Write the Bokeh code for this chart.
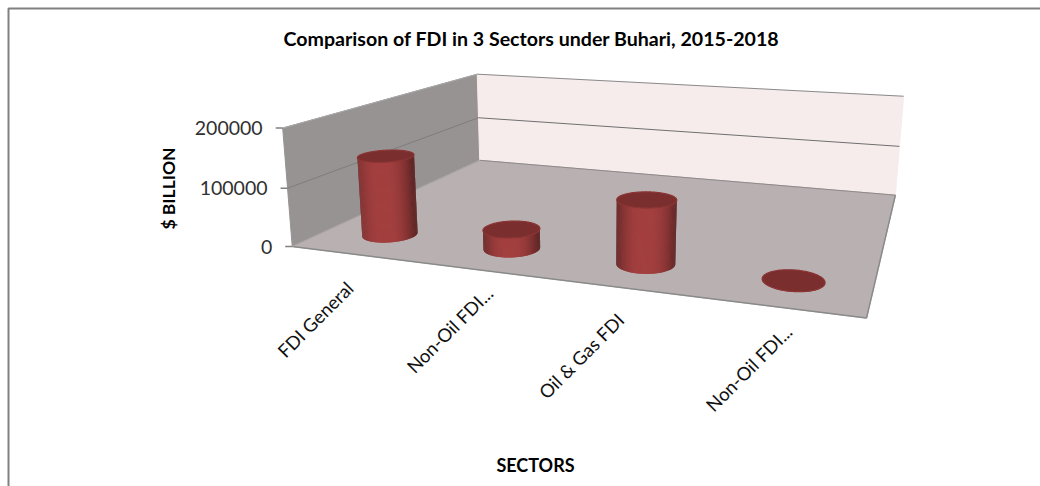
import numpy as np
from bokeh.plotting import figure
from bokeh.core.properties import value
from bokeh.embed import file_html
from bokeh.resources import INLINE

# ---- data ----
categories = ["FDI General", "Non-Oil FDI...", "Oil & Gas FDI", "Non-Oil FDI..."]
fdi_values = [138700, 32800, 104500, 500]
y_ticks = [0, 100000, 200000]
y_max = 200000
title_text = "Comparison of FDI in 3 Sectors under Buhari, 2015-2018"
y_title = "$ BILLION"
x_title = "SECTORS"

FONT = "Lato"
W, H = 1040, 486

# ---- camera: a 3D box (category, depth, value) seen by a projective camera, fitted to the frame ----
box = [(0, 0, 0), (1, 0, 0), (1, 1, 0), (0, 1, 0), (0, 1, 1), (0, 0, 1), (1, 1, 1), (0, 0, .5), (0, 1, .5), (1, 1, .5)]
page = [(292, 246), (866, 318), (895, 194), (479, 160), (477, 73), (282, 128), (903, 96), (287, 187), (478, 118), (899, 146)]
rows = []
for (a, b, c), (px, py) in zip(box, page):
    rows.append([a, b, c, 1, 0, 0, 0, 0, -px * a, -px * b, -px * c, -px])
    rows.append([0, 0, 0, 0, a, b, c, 1, -py * a, -py * b, -py * c, -py])
CAM = np.linalg.svd(np.array(rows, float))[2][-1].reshape(3, 4)


def proj(u, v, w):
    u, v, w = np.broadcast_arrays(np.asarray(u, float), np.asarray(v, float), np.asarray(w, float))
    q = CAM @ np.vstack([u.ravel(), v.ravel(), w.ravel(), np.ones(u.size)])
    return q[0] / q[2], q[1] / q[2]


p = figure(width=W, height=H, x_range=(0, W), y_range=(H, 0), toolbar_location=None,
           output_backend="svg", min_border=0, outline_line_color=None)
p.axis.visible = False
p.grid.visible = False

GREY = "#808080"


def quad(pts, fill):
    x, y = proj(*zip(*pts))
    p.patch(list(x), list(y), fill_color=fill, line_color=fill, line_width=1)


def edge(a, b, color=GREY, width=1.0):
    x, y = proj(*zip(a, b))
    p.line(list(x), list(y), line_color=color, line_width=width)


# chart border
p.line([8, 8, W], [H, 8, 8], line_color=GREY, line_width=2)

# walls and floor
quad([(0, 0, 0), (0, 1, 0), (0, 1, 1), (0, 0, 1)], "#989393")
quad([(0, 1, 0), (1, 1, 0), (1, 1, 1), (0, 1, 1)], "#F6ECEC")
quad([(0, 0, 0), (1, 0, 0), (1, 1, 0), (0, 1, 0)], "#B9B1B1")

# gridlines
for t in y_ticks:
    w = t / y_max
    if t > 0:
        edge((0, 0, w), (0, 1, w), "#7d7d7d" if t < y_max else "#a8a8a8")
        edge((0, 1, w), (1, 1, w), "#6f6f6f" if t < y_max else "#8a8a8a")
    x, y = proj(0, 0, w)
    p.line([x[0] - 7, x[0]], [y[0], y[0]], line_color=GREY, line_width=1.5)
edge((0, 0, 0), (1, 0, 0), "#8a8a8a", 1.5)
edge((1, 0, 0), (1, 1, 0), "#8a8a8a", 1.5)
edge((0, 1, 0), (1, 1, 0), "#8f8a8a", 1)
edge((0, 1, 0), (0, 0, 0), "#a8a3a3", 1)

# cylinders
RU, RV = 0.05, 0.07
DEPTH = 0.167
DARK = np.array([0x5E, 0x24, 0x24])
LIGHT = np.array([0xA4, 0x40, 0x40])
for i, val in enumerate(fdi_values):
    cu = (i + 0.5) / len(categories)
    w = val / y_max
    th = np.linspace(0, 2 * np.pi, 181)
    us, vs = cu + RU * np.cos(th), DEPTH + RV * np.sin(th)
    bx, by = proj(us, vs, 0 * th)
    tx, ty = proj(us, vs, 0 * th + w)
    xmin, xmax = min(bx.min(), tx.min()), max(bx.max(), tx.max())
    cx, rx = (xmin + xmax) / 2, (xmax - xmin) / 2
    # the wall's front half, cut between the left-most and right-most points of the base
    li, ri = int(np.argmin(bx[:-1])), int(np.argmax(bx[:-1]))
    idx = [k % 180 for k in range(ri, ri + 181)]
    idx = idx[:idx.index(li) + 1] if False else idx
    front = []
    k = li
    while k % 180 != ri:
        front.append(k % 180)
        k += 1
    front.append(ri)
    fb_x, fb_y = bx[front], by[front]
    ft_x, ft_y = tx[front], ty[front]
    # strips of constant shade, each overlapping the next so that no seam shows the floor
    xs, ys, cols = [], [], []
    n = len(front) - 1
    for k in range(n):
        j = min(k + 2, n)
        s = (fb_x[k] + fb_x[j]) / 2
        shade = np.clip(1 - abs((s - (cx - 0.05 * rx)) / rx) ** 2.6, 0, 1)
        c = (DARK + (LIGHT - DARK) * shade).astype(int)
        xs.append([fb_x[k], fb_x[j], ft_x[j], ft_x[k]])
        ys.append([fb_y[k], fb_y[j], ft_y[j], ft_y[k]])
        cols.append("#%02x%02x%02x" % tuple(c))
    p.patches(xs, ys, fill_color=cols, line_color=None)
    p.patch(list(tx), list(ty), fill_color="#7A2E2E", line_color="#8C3434", line_width=1.2)

# value labels on the axis
xt, yt = proj(0 * np.array(y_ticks), 0 * np.array(y_ticks), np.array(y_ticks) / y_max)
p.text(xt - 20, yt, text=[str(t) for t in y_ticks], text_font=value(FONT), text_font_size="19.5px",
       text_color="#303030", text_align="right", text_baseline="middle")

# category labels
label_dx = [-2, 9, -2, 8]
label_dy = [31, 20, 29, 21]
uc = (np.arange(len(categories)) + 0.5) / len(categories)
xc, yc = proj(uc, 0 * uc, 0 * uc)
p.text(xc + np.array(label_dx), yc + np.array(label_dy), text=categories, text_font=value(FONT),
       text_font_size="18.5px", text_color="#101010", text_align="right", text_baseline="middle", angle=np.pi / 4)

# titles
p.text([531], [38], text=[title_text], text_font=value(FONT), text_font_size="19.6px", text_font_style="bold",
       text_color="#000000", text_align="center", text_baseline="middle")
p.text([535], [464], text=[x_title], text_font=value(FONT), text_font_size="18px", text_font_style="bold",
       text_color="#000000", text_align="center", text_baseline="middle")
p.text([168], [188], text=[y_title], text_font=value(FONT), text_font_size="17.5px", text_font_style="bold",
       text_color="#000000", text_align="center", text_baseline="middle", angle=np.pi / 2)

open("out.html", "w").write(file_html(p, INLINE))
